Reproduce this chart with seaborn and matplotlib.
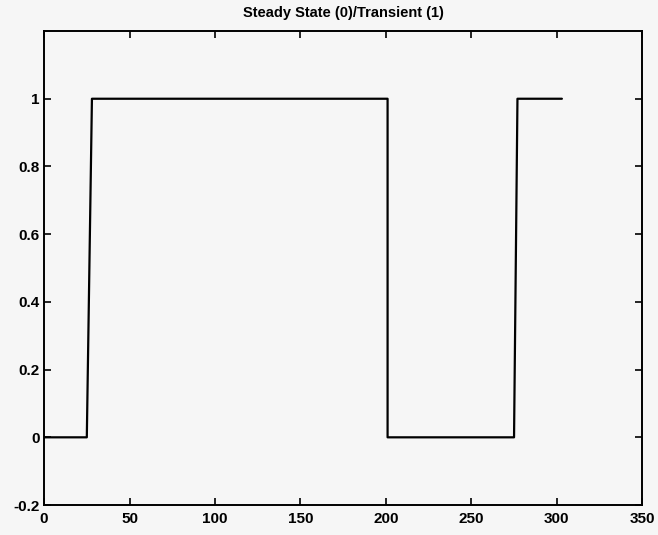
import matplotlib
matplotlib.use("Agg")
import matplotlib.pyplot as plt
import seaborn as sns
import pandas as pd

# Transition points of the steady-state / transient indicator
time = [0, 25, 28, 201, 201, 275, 277, 303]
state = [0, 0, 1, 1, 0, 0, 1, 1]

x_ticks = [0, 50, 100, 150, 200, 250, 300, 350]
x_labels = ["0", "50", "100", "150", "200", "250", "300", "350"]
y_ticks = [-0.2, 0, 0.2, 0.4, 0.6, 0.8, 1.0]
y_labels = ["-0.2", "0", "0.2", "0.4", "0.6", "0.8", "1"]

sns.set_style("white")
plt.rcParams["font.family"] = ["Liberation Sans", "DejaVu Sans"]
plt.rcParams["text.color"] = "black"
plt.rcParams["xtick.color"] = "black"
plt.rcParams["ytick.color"] = "black"

df = pd.DataFrame({"time": time, "state": state})

fig = plt.figure(figsize=(6.58, 5.35), dpi=100, facecolor="#f6f6f6")
ax = fig.add_axes([0.067, 0.056, 0.909, 0.886])
ax.set_facecolor("#f6f6f6")

sns.lineplot(data=df, x="time", y="state", sort=False, estimator=None,
             color="black", linewidth=1.6, ax=ax)

ax.set_xlim(0, 350)
ax.set_ylim(-0.2, 1.2)
ax.set_xticks(x_ticks)
ax.set_xticklabels(x_labels, fontsize=11, fontweight="bold")
ax.set_yticks(y_ticks)
ax.set_yticklabels(y_labels, fontsize=11, fontweight="bold")
ax.set_xlabel("")
ax.set_ylabel("")
ax.tick_params(axis="x", pad=5)
ax.tick_params(axis="y", pad=3)
ax.tick_params(direction="in", length=5, width=1.2, top=True, right=True,
               bottom=True, left=True, color="black", labelcolor="black")
for side in ax.spines.values():
    side.set_visible(True)
    side.set_color("black")
    side.set_linewidth(1.4)

ax.set_title("Steady State (0)/Transient (1)", fontsize=10.5,
             fontweight="bold", pad=10, color="black")

fig.savefig("out.png", dpi=100, facecolor=fig.get_facecolor())
